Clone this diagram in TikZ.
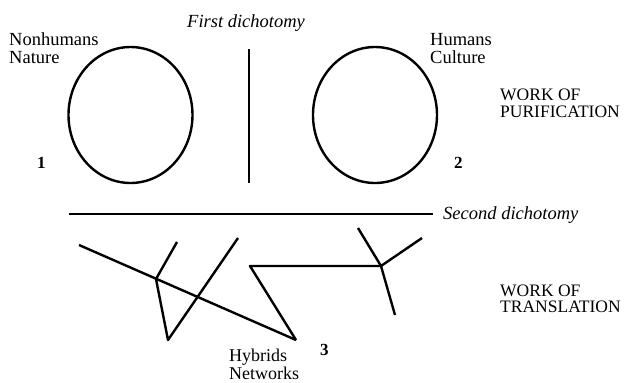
\documentclass[tikz,border=0pt]{standalone}
\usepackage{fontspec}
\setmainfont{Liberation Serif}
\usetikzlibrary{shapes.geometric}
\begin{document}
\begin{tikzpicture}[x=1pt,y=-1pt,
  lbl/.style={anchor=base west,inner sep=0pt,font=\fontsize{18.5}{20}\selectfont},
  capslbl/.style={anchor=base west,inner sep=0pt,font=\fontsize{17.5}{18}\selectfont},
  num/.style={anchor=base west,inner sep=0pt,font=\fontsize{17}{18}\selectfont\bfseries},
  ital/.style={anchor=base west,inner sep=0pt,font=\fontsize{18.5}{20}\selectfont\itshape},
  ring/.style={draw,line width=2.4pt,ellipse,minimum width=124pt,minimum height=136pt,inner sep=0pt},
  ln/.style={line width=2.4pt,line join=round}]
\useasboundingbox (0,0) rectangle (625,383);
% circles
\node[ring] (nature) at (130.5,115) {};
\node[ring] (culture) at (375,115) {};
% first dichotomy
\coordinate (d1t) at (249,49);
\coordinate (d1b) at (249,183);
\draw[ln] (d1t) -- (d1b);
% second dichotomy
\coordinate (d2l) at (69,214);
\coordinate (d2r) at (433,214);
\draw[ln] (d2l) -- (d2r);
% network
\coordinate (a1) at (79,245);
\coordinate (a2) at (296,340);
\coordinate (b1) at (177,242);
\coordinate (b2) at (156,279);
\coordinate (b3) at (168,340);
\coordinate (b4) at (238,238);
\coordinate (c1) at (250,266);
\coordinate (j) at (381,266);
\coordinate (e1) at (358,228);
\coordinate (e2) at (422,238);
\coordinate (e3) at (395,315);
\draw[ln] (a1) -- (a2);
\draw[ln] (b1) -- (b2) -- (b3) -- (b4);
\draw[ln] (a2) -- (c1) -- (j);
\draw[ln] (e1) -- (j) -- (e2);
\draw[ln] (j) -- (e3);
% labels
\node[lbl] (nh) at (9,45) {Nonhumans};
\node[lbl] (na) at (9,63) {Nature};
\node[lbl] (hu) at (430,45) {Humans};
\node[lbl] (cu) at (430,63) {Culture};
\node[ital] (fd) at (187,27) {First dichotomy};
\node[ital] (sd) at (443,219) {Second dichotomy};
\node[capslbl] (wp1) at (500,100) {WORK OF};
\node[capslbl] (wp2) at (500,117) {PURIFICATION};
\node[capslbl] (wt1) at (500,296) {WORK OF};
\node[capslbl] (wt2) at (500,312) {TRANSLATION};
\node[num] (n1) at (37,168) {1};
\node[num] (n2) at (454,168) {2};
\node[num] (n3) at (320,355) {3};
\node[lbl,font=\fontsize{18}{20}\selectfont] (hy) at (229,361) {Hybrids};
\node[lbl,font=\fontsize{18}{20}\selectfont] (nw) at (229,379.5) {Networks};
\end{tikzpicture}
\end{document}
